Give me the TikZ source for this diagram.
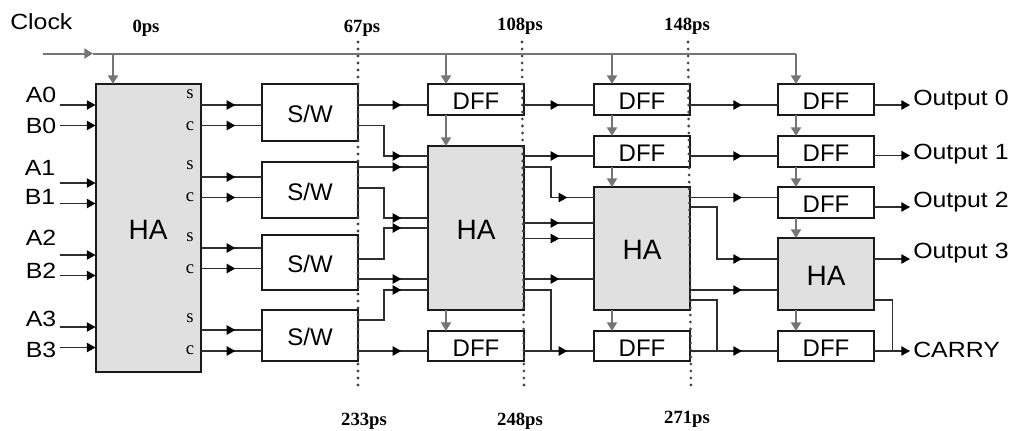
\documentclass[tikz,border=0pt]{standalone}
\usepackage{fontspec}
\setmainfont{Liberation Sans}
\newfontfamily\labfont[FakeStretch=1.13]{Liberation Sans}
\newfontfamily\timefont{Liberation Serif}
\usetikzlibrary{arrows.meta,decorations.markings}
\definecolor{ink}{HTML}{1A1A1A}
\definecolor{wire}{HTML}{2E2E2E}
\definecolor{clockline}{HTML}{757575}
\definecolor{dots}{HTML}{454545}
\definecolor{hafill}{HTML}{E0E0E0}
\tikzset{
  block/.style={draw=ink,line width=1.5pt,inner sep=0pt,outer sep=0pt,text height=15pt,text depth=0pt,font=\fontsize{18}{18}\selectfont,anchor=north west},
  haout/.style={block,fill=hafill,text height=17pt,font=\fontsize{21}{21}\selectfont},
  sig/.style={draw=wire,line width=1pt},
  tipat/.style={sig,postaction={decorate,decoration={markings,mark=at position #1 with {\arrow{Triangle[length=6.5pt,width=7pt,color=black]}}}}},
  inwire/.style={sig,-{Triangle[length=6.5pt,width=7pt,color=black]}},
  clk/.style={draw=clockline,line width=1.5pt,-{Triangle[length=6.5pt,width=7.5pt]}},
  dotline/.style={draw=dots,line width=2.3pt,line cap=round,dash pattern=on 0pt off 5.25pt},
  lab/.style={font=\fontsize{16.5}{16.5}\labfont,inner sep=0pt},
  port/.style={font=\fontsize{14}{14}\timefont,inner sep=0pt},
  stamp/.style={font=\fontsize{14}{14}\timefont\bfseries,inner sep=0pt}
}
\begin{document}
\begin{tikzpicture}[x=0.75pt,y=-0.75pt]
  \useasboundingbox (0,0) rectangle (1013,430);
  % blocks
  \node[haout,minimum width=79pt,minimum height=216pt] (hafirst) at (95.5,84) {HA};
  \node[block,minimum width=72pt,minimum height=42.75pt] (swa) at (262,84) {S/W};
  \node[block,minimum width=72pt,minimum height=42pt] (swb) at (262,162) {S/W};
  \node[block,minimum width=72pt,minimum height=41.25pt] (swc) at (262,235) {S/W};
  \node[block,minimum width=72pt,minimum height=38.25pt] (swd) at (262,310) {S/W};
  \node[block,minimum width=72pt,minimum height=23.25pt] (dffaa) at (428,84) {DFF};
  \node[haout,minimum width=72pt,minimum height=123pt] (hasecond) at (428,146) {HA};
  \node[block,minimum width=72pt,minimum height=22.5pt] (dffab) at (428,331) {DFF};
  \node[block,minimum width=72pt,minimum height=23.25pt] (dffba) at (594,84) {DFF};
  \node[block,minimum width=72pt,minimum height=23.25pt] (dffbb) at (594,136) {DFF};
  \node[haout,minimum width=72pt,minimum height=92.25pt] (hathird) at (594,187) {HA};
  \node[block,minimum width=72pt,minimum height=22.5pt] (dffbc) at (594,331) {DFF};
  \node[block,minimum width=72pt,minimum height=23.25pt] (dffca) at (778,84) {DFF};
  \node[block,minimum width=72pt,minimum height=23.25pt] (dffcb) at (778,136) {DFF};
  \node[block,minimum width=72pt,minimum height=23.25pt] (dffcc) at (778,187) {DFF};
  \node[haout,minimum width=72pt,minimum height=54pt] (hafourth) at (778,238) {HA};
  \node[block,minimum width=72pt,minimum height=22.5pt] (dffcd) at (778,331) {DFF};
  % dotted time marks
  \node[stamp] (tzero) at (146,28) {0ps};
  \node[stamp] (ta) at (362,28) {67ps};
  \node[stamp] (tb) at (520,26) {108ps};
  \node[stamp] (tc) at (687,26) {148ps};
  \node[stamp] (td) at (364,421) {233ps};
  \node[stamp] (te) at (520,421) {248ps};
  \node[stamp] (tf) at (687,419) {271ps};
  \coordinate (ma) at (358,42);
  \coordinate (mb) at (358,390);
  \coordinate (mc) at (522,42);
  \coordinate (md) at (524,390);
  \coordinate (me) at (688,42);
  \coordinate (mf) at (691,390);
  \draw[dotline] (ma) -- (mb);
  \draw[dotline] (mc) -- (md);
  \draw[dotline] (me) -- (mf);
  % clock
  \node[lab,anchor=west] (clock) at (10,22) {Clock};
  \coordinate (clkstart) at (43,53.5);
  \coordinate (clktip) at (93,53.5);
  \coordinate (clkturn) at (796,53.5);
  \draw[clk] (clkstart) -- (clktip);
  \draw[clk,-] (clktip) -- (clkturn);
  \draw[clk] (clkturn) -- (dffca.north -| clkturn);
  \draw[clk] (clkstart -| 113,0) -- (hafirst.north -| 113,0);
  \draw[clk] (clkstart -| 446,0) -- (dffaa.north -| 446,0);
  \draw[clk] (clkstart -| 612,0) -- (dffba.north -| 612,0);
  \draw[clk] (dffaa.south -| 446,0) -- (hasecond.north -| 446,0);
  \draw[clk] (hasecond.south -| 446,0) -- (dffab.north -| 446,0);
  \draw[clk] (dffba.south -| 612,0) -- (dffbb.north -| 612,0);
  \draw[clk] (dffbb.south -| 612,0) -- (hathird.north -| 612,0);
  \draw[clk] (hathird.south -| 612,0) -- (dffbc.north -| 612,0);
  \draw[clk] (dffca.south -| 796,0) -- (dffcb.north -| 796,0);
  \draw[clk] (dffcb.south -| 796,0) -- (dffcc.north -| 796,0);
  \draw[clk] (dffcc.south -| 796,0) -- (hafourth.north -| 796,0);
  \draw[clk] (hafourth.south -| 796,0) -- (dffcd.north -| 796,0);
  % inputs
  \node[lab] (ina) at (41,95) {A0};
  \node[lab] (inb) at (41,126) {B0};
  \node[lab] (inc) at (40,168) {A1};
  \node[lab] (ind) at (40,197) {B1};
  \node[lab] (ine) at (41,238) {A2};
  \node[lab] (inf) at (41,271) {B2};
  \node[lab] (ing) at (41,319) {A3};
  \node[lab] (inh) at (41,350) {B3};
  \coordinate (sa) at (60,105);
  \coordinate (sb) at (60,125.5);
  \coordinate (sc) at (60,183);
  \coordinate (sd) at (60,203.5);
  \coordinate (se) at (60,255);
  \coordinate (sf) at (60,275.5);
  \coordinate (sg) at (60,327);
  \coordinate (sh) at (60,347.5);
  \draw[inwire] (sa) -- (hafirst.west |- sa);
  \draw[inwire] (sb) -- (hafirst.west |- sb);
  \draw[inwire] (sc) -- (hafirst.west |- sc);
  \draw[inwire] (sd) -- (hafirst.west |- sd);
  \draw[inwire] (se) -- (hafirst.west |- se);
  \draw[inwire] (sf) -- (hafirst.west |- sf);
  \draw[inwire] (sg) -- (hafirst.west |- sg);
  \draw[inwire] (sh) -- (hafirst.west |- sh);
  % adder ports
  \node[port] (psa) at (190,94) {s};
  \node[port] (pca) at (190,126) {c};
  \node[port] (psb) at (190,165) {s};
  \node[port] (pcb) at (190,197) {c};
  \node[port] (psc) at (190,237) {s};
  \node[port] (pcc) at (190,269) {c};
  \node[port] (psd) at (190,318) {s};
  \node[port] (pcd) at (190,350) {c};
  \draw[tipat=-20pt] (hafirst.east |- 0,105) -- (swa.west |- 0,105);
  \draw[tipat=-20pt] (hafirst.east |- 0,125.5) -- (swa.west |- 0,125.5);
  \draw[tipat=-20pt] (hafirst.east |- 0,177) -- (swb.west |- 0,177);
  \draw[tipat=-20pt] (hafirst.east |- 0,197.5) -- (swb.west |- 0,197.5);
  \draw[tipat=-20pt] (hafirst.east |- 0,248) -- (swc.west |- 0,248);
  \draw[tipat=-20pt] (hafirst.east |- 0,268.5) -- (swc.west |- 0,268.5);
  \draw[tipat=-20pt] (hafirst.east |- 0,330) -- (swd.west |- 0,330);
  \draw[tipat=-20pt] (hafirst.east |- 0,351) -- (swd.west |- 0,351);
  % S/W to second column
  \draw[tipat=-20pt] (swa.east |- 0,105) -- (dffaa.west |- 0,105);
  \draw[tipat=-20pt] (swa.east |- 0,125.5) -| (384,156) -- (hasecond.west |- 0,156);
  \draw[tipat=-20pt] (swb.east |- 0,167) -- (hasecond.west |- 0,167);
  \draw[tipat=-20pt] (swb.east |- 0,188) -| (384,218) -- (hasecond.west |- 0,218);
  \draw[tipat=-20pt] (swc.east |- 0,259) -| (384,228) -- (hasecond.west |- 0,228);
  \draw[tipat=-20pt] (swc.east |- 0,279) -- (hasecond.west |- 0,279);
  \draw[tipat=-20pt] (swd.east |- 0,320) -| (384,290) -- (hasecond.west |- 0,290);
  \draw[tipat=-20pt] (swd.east |- 0,351) -- (dffab.west |- 0,351);
  % second column to third
  \draw[tipat=-26pt] (dffaa.east |- 0,105) -- (dffba.west |- 0,105);
  \draw[tipat=-26pt] (hasecond.east |- 0,156) -- (dffbb.west |- 0,156);
  \draw[tipat=-20pt] (hasecond.east |- 0,167) -| (551,197.5) -- (hathird.west |- 0,197.5);
  \draw[tipat=-26pt] (hasecond.east |- 0,223) -- (hathird.west |- 0,223);
  \draw[tipat=-26pt] (hasecond.east |- 0,238.5) -- (hathird.west |- 0,238.5);
  \draw[tipat=-26pt] (hasecond.east |- 0,279) -- (hathird.west |- 0,279);
  \draw[sig] (hasecond.east |- 0,290) -| (551,351);
  \draw[tipat=-20pt] (dffab.east |- 0,351) -- (dffbc.west |- 0,351);
  % third column to fourth
  \draw[tipat=-27pt] (dffba.east |- 0,105) -- (dffca.west |- 0,105);
  \draw[tipat=-27pt] (dffbb.east |- 0,156) -- (dffcb.west |- 0,156);
  \draw[tipat=-27pt] (hathird.east |- 0,197.5) -- (dffcc.west |- 0,197.5);
  \draw[tipat=-27pt] (hathird.east |- 0,207) -| (717,259) -- (hafourth.west |- 0,259);
  \draw[tipat=-27pt] (hathird.east |- 0,290) -- (hafourth.west |- 0,290);
  \draw[sig] (hathird.east |- 0,300) -| (717,351);
  \draw[tipat=-27pt] (dffbc.east |- 0,351) -- (dffcd.west |- 0,351);
  % outputs
  \node[lab,anchor=west,inner xsep=2.25pt] (outa) at (910,100) {Output 0};
  \node[lab,anchor=west,inner xsep=2.25pt] (outb) at (910,154) {Output 1};
  \node[lab,anchor=west,inner xsep=2.25pt] (outc) at (910,202) {Output 2};
  \node[lab,anchor=west,inner xsep=2.25pt] (outd) at (910,253) {Output 3};
  \node[lab,anchor=west,inner xsep=2.25pt] (carry) at (910,350) {CARRY};
  \draw[inwire] (dffca.east |- 0,105) -- (outa.west |- 0,105);
  \draw[inwire] (dffcb.east |- 0,155.5) -- (outb.west |- 0,155.5);
  \draw[inwire] (dffcc.east |- 0,207) -- (outc.west |- 0,207);
  \draw[inwire] (hafourth.east |- 0,259) -- (outd.west |- 0,259);
  \draw[inwire] (dffcd.east |- 0,351) -- (carry.west |- 0,351);
  \draw[sig] (hafourth.east |- 0,300) -| (892.5,351);
\end{tikzpicture}
\end{document}
